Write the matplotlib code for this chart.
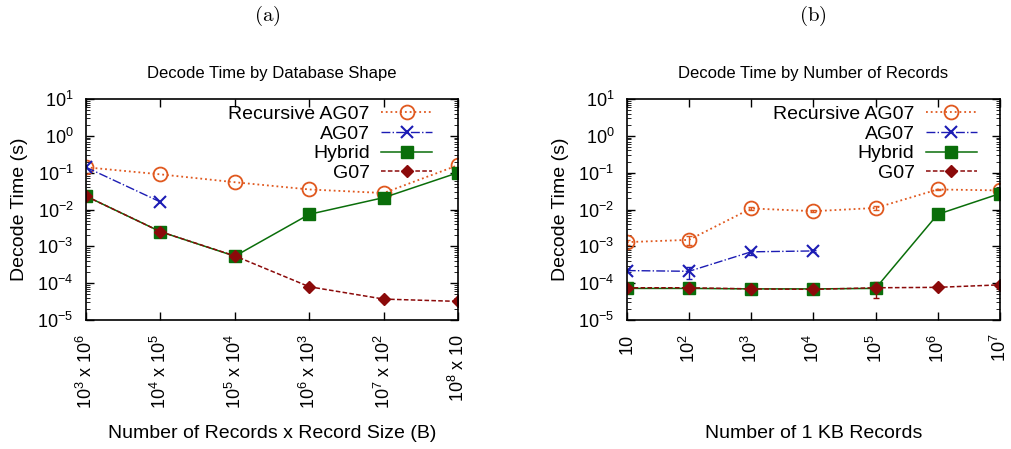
import matplotlib.pyplot as plt
import numpy as np
from matplotlib.ticker import LogLocator, LogFormatterSciNotation, NullFormatter

plt.rcParams['font.family'] = ['Liberation Sans', 'DejaVu Sans']
plt.rcParams['mathtext.fontset'] = 'custom'
plt.rcParams['mathtext.rm'] = 'Liberation Sans'
plt.rcParams['mathtext.it'] = 'Liberation Sans:italic'
plt.rcParams['mathtext.bf'] = 'Liberation Sans:bold'

# (a) decode time by database shape
shape_labels = [r'$10^3$ x $10^6$', r'$10^4$ x $10^5$', r'$10^5$ x $10^4$',
                r'$10^6$ x $10^3$', r'$10^7$ x $10^2$', r'$10^8$ x 10']
shape_recursive = [0.14, 0.09, 0.055, 0.035, 0.028, 0.16]
shape_ag07 = [0.14, 0.016]
shape_hybrid = [0.023, 0.0025, 0.00054, 0.0074, 0.021, 0.1]
shape_g07 = [0.023, 0.0025, 0.00055, 8e-5, 3.7e-5, 3.2e-5]

# (b) decode time by number of records
records_labels = ['10', r'$10^2$', r'$10^3$', r'$10^4$', r'$10^5$', r'$10^6$', r'$10^7$']
records_recursive = [0.0013, 0.0015, 0.0107, 0.009, 0.011, 0.035, 0.033]
records_recursive_lo = [0.0011, 0.0011, 0.0095, 0.0085, 0.0095, 0.033, 0.031]
records_recursive_hi = [0.0015, 0.0019, 0.012, 0.0095, 0.0125, 0.037, 0.035]
records_ag07 = [2.2e-4, 2.1e-4, 7.1e-4, 7.5e-4]
records_ag07_lo = [2.0e-4, 1.3e-4, 6.0e-4, 7.0e-4]
records_ag07_hi = [2.4e-4, 2.7e-4, 8.2e-4, 8.0e-4]
records_hybrid = [7.2e-5, 7.2e-5, 7.0e-5, 7.0e-5, 7.2e-5, 0.0074, 0.027]
records_g07 = [7.5e-5, 7.5e-5, 7.0e-5, 6.8e-5, 7.5e-5, 7.7e-5, 9.0e-5]
records_g07_lo = [7.0e-5, 7.0e-5, 6.5e-5, 6.0e-5, 4.0e-5, 7.2e-5, 8.5e-5]
records_g07_hi = [8.0e-5, 8.0e-5, 7.5e-5, 7.5e-5, 1.1e-4, 8.2e-5, 9.5e-5]

C_REC = '#e0581e'
C_AG = '#1c1cb4'
C_HYB = '#0a6e0a'
C_G07 = '#8b0a0a'

REC_STYLE = dict(ls=':', color=C_REC, marker='o', mfc='none', ms=10, mew=1.3, lw=1.3)
AG_STYLE = dict(ls='-.', color=C_AG, marker='x', ms=9, mew=1.5, lw=1)
HYB_STYLE = dict(ls='-', color=C_HYB, marker='s', ms=9, lw=1.1)
G07_STYLE = dict(ls='--', dashes=(3, 1.5), color=C_G07, marker='D', ms=6, lw=1.1)


def style_axes(ax, labels, title, xlabel, leg_x):
    ax.set_yscale('log')
    ax.set_ylim(1e-5, 10)
    ax.set_xlim(0, len(labels) - 1)
    ax.set_xticks(range(len(labels)))
    ax.set_xticklabels(labels, rotation=90, fontsize=13)
    ax.yaxis.set_major_locator(LogLocator(base=10, numticks=10))
    ax.yaxis.set_minor_locator(LogLocator(base=10, subs=np.arange(2, 10), numticks=10))
    ax.yaxis.set_major_formatter(LogFormatterSciNotation())
    ax.yaxis.set_minor_formatter(NullFormatter())
    ax.tick_params(axis='both', which='both', direction='in', top=True, right=True)
    ax.tick_params(axis='both', which='major', length=6, width=1, labelsize=13)
    ax.tick_params(axis='x', which='major', pad=10)
    ax.tick_params(axis='y', which='major', pad=9)
    ax.tick_params(axis='y', which='minor', length=3)
    ax.set_title(title, fontsize=12, pad=15)
    ax.set_ylabel('Decode Time (s)', fontsize=14)
    ax.yaxis.set_label_coords(-0.155, 0.5)
    ax.set_xlabel(xlabel, fontsize=14)
    ax.xaxis.set_label_coords(0.5, -0.475)
    for s in ax.spines.values():
        s.set_linewidth(1.2)
    ax.legend(loc='upper right', bbox_to_anchor=(leg_x, 0.97), frameon=False,
              markerfirst=False, fontsize=14, handlelength=2.6, labelspacing=0.1,
              borderaxespad=0, borderpad=0, handletextpad=0.6)


def err(v, lo, hi):
    v = np.array(v)
    return [v - np.array(lo), np.array(hi) - v]


fig = plt.figure(figsize=(10.11, 4.49), dpi=100)
ax1 = fig.add_axes([0.0851, 0.2873, 0.368, 0.4922])
ax2 = fig.add_axes([0.620, 0.2873, 0.369, 0.4922])

x = np.arange(len(shape_labels))
ax1.plot(x, shape_recursive, label='Recursive AG07', **REC_STYLE)
ax1.plot(x[:len(shape_ag07)], shape_ag07, label='AG07', **AG_STYLE)
ax1.plot(x, shape_hybrid, label='Hybrid', **HYB_STYLE)
ax1.plot(x, shape_g07, label='G07', **G07_STYLE)
style_axes(ax1, shape_labels, 'Decode Time by Database Shape',
           'Number of Records x Record Size (B)', 0.93)

x = np.arange(len(records_labels))
xa = x[:len(records_ag07)]
ax2.errorbar(x, records_recursive,
             yerr=err(records_recursive, records_recursive_lo, records_recursive_hi),
             fmt='none', ecolor=C_REC, capsize=2, elinewidth=1)
ax2.errorbar(xa, records_ag07, yerr=err(records_ag07, records_ag07_lo, records_ag07_hi),
             fmt='none', ecolor=C_AG, capsize=2, elinewidth=1)
ax2.errorbar(x, records_g07, yerr=err(records_g07, records_g07_lo, records_g07_hi),
             fmt='none', ecolor=C_G07, capsize=2, elinewidth=1)
ax2.plot(x, records_recursive, label='Recursive AG07', **REC_STYLE)
ax2.plot(xa, records_ag07, label='AG07', **AG_STYLE)
ax2.plot(x, records_hybrid, label='Hybrid', **HYB_STYLE)
ax2.plot(x, records_g07, label='G07', **G07_STYLE)
style_axes(ax2, records_labels, 'Decode Time by Number of Records',
           'Number of 1 KB Records', 0.938)

fig.text(0.264, 0.965, r'$\mathrm{(a)}$', ha='center', va='center', fontsize=15,
         math_fontfamily='cm')
fig.text(0.804, 0.965, r'$\mathrm{(b)}$', ha='center', va='center', fontsize=15,
         math_fontfamily='cm')

fig.savefig('out.png', dpi=100)
